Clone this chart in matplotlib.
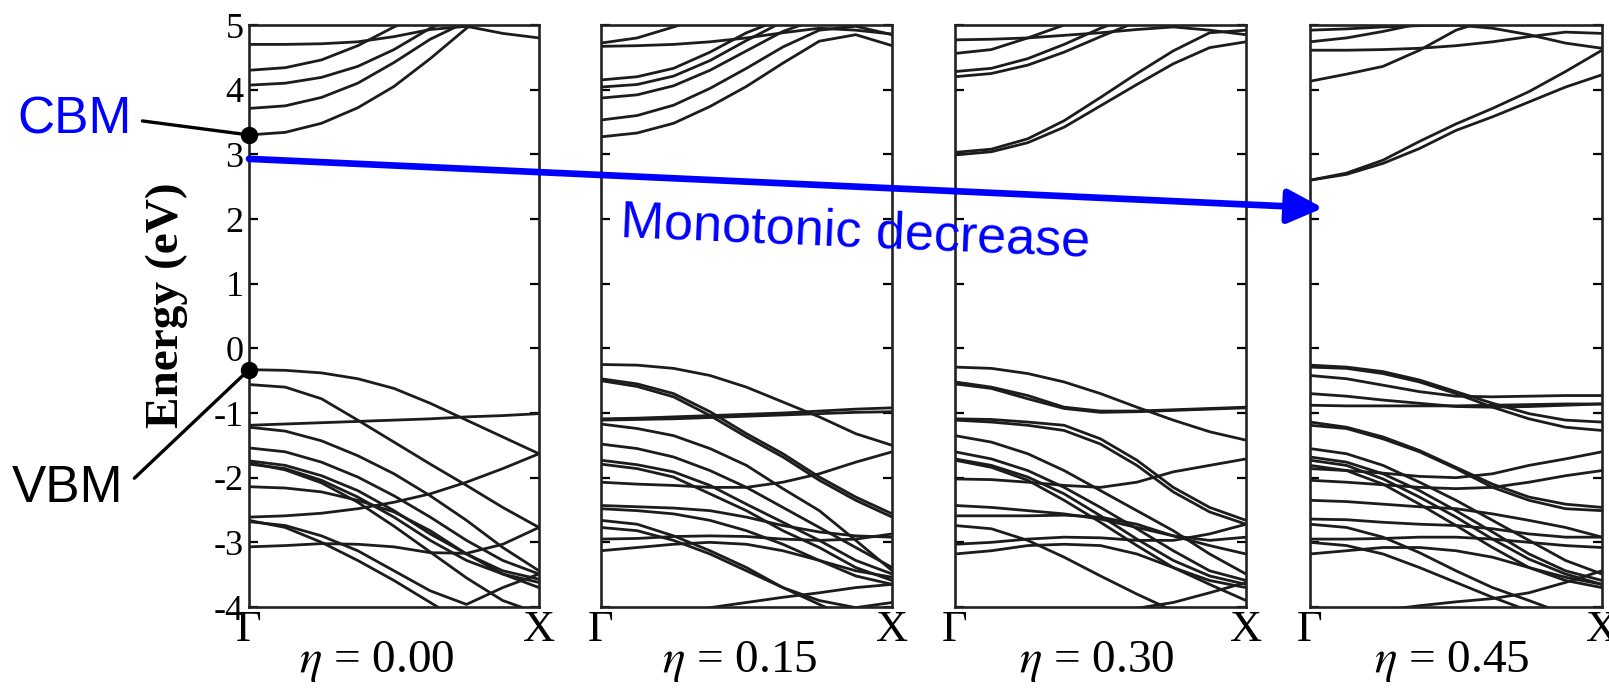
import numpy as np
import matplotlib.pyplot as plt
from matplotlib.patches import ConnectionPatch

plt.rcParams['font.family'] = 'Liberation Serif'
plt.rcParams['mathtext.fontset'] = 'stix'

# k path Gamma -> X, bands read at 9 equally spaced points
k = np.linspace(0, 1, 9)

eta_labels = ['0.00', '0.15', '0.30', '0.45']
yticks = [-4, -3, -2, -1, 0, 1, 2, 3, 4, 5]

# ---------------- eta = 0.00
cond_000 = [
    [3.30, 3.34, 3.48, 3.72, 4.05, 4.48, 4.95, 5.30, 5.60],
    [3.71, 3.75, 3.88, 4.10, 4.42, 4.78, 5.05, 5.30, 5.50],
    [4.07, 4.10, 4.19, 4.36, 4.62, 4.95, 5.20, 5.40, 5.50],
    [4.30, 4.34, 4.46, 4.68, 4.97, 5.20, 5.40, 5.50, 5.50],
    [4.70, 4.70, 4.71, 4.74, 4.82, 4.93, 4.98, 4.87, 4.80],
]
val_000 = [
    [-0.33, -0.34, -0.38, -0.47, -0.62, -0.85, -1.11, -1.37, -1.63],
    [-0.56, -0.60, -0.78, -1.11, -1.45, -1.79, -2.12, -2.46, -2.77],
    [-1.19, -1.17, -1.15, -1.13, -1.11, -1.09, -1.06, -1.04, -1.01],
    [-1.22, -1.28, -1.43, -1.66, -1.94, -2.28, -2.66, -3.08, -3.44],
    [-1.54, -1.60, -1.76, -1.99, -2.28, -2.61, -2.97, -3.28, -3.49],
    [-1.74, -1.81, -1.97, -2.20, -2.51, -2.87, -3.18, -3.44, -3.57],
    [-1.79, -1.86, -2.04, -2.30, -2.61, -2.97, -3.28, -3.49, -3.62],
    [-1.77, -1.88, -2.08, -2.38, -2.75, -3.15, -3.55, -3.90, -4.10],
    [-2.14, -2.16, -2.22, -2.35, -2.53, -2.82, -3.18, -3.49, -3.70],
    [-2.61, -2.59, -2.55, -2.48, -2.38, -2.25, -2.07, -1.86, -1.63],
    [-2.66, -2.77, -3.00, -3.28, -3.59, -3.93, -4.27, -4.58, -4.83],
    [-2.68, -2.74, -2.90, -3.13, -3.44, -3.75, -3.96, -3.70, -3.49],
    [-3.07, -3.05, -3.02, -3.03, -3.07, -3.16, -3.17, -3.03, -2.77],
]

# ---------------- eta = 0.15
cond_015 = [
    [3.27, 3.33, 3.48, 3.74, 4.05, 4.41, 4.75, 4.85, 4.68],
    [3.53, 3.60, 3.76, 4.02, 4.33, 4.66, 4.92, 4.98, 4.85],
    [3.87, 3.92, 4.06, 4.30, 4.60, 4.90, 5.10, 5.20, 5.20],
    [4.04, 4.08, 4.21, 4.45, 4.76, 5.05, 5.20, 5.30, 5.30],
    [4.15, 4.20, 4.33, 4.58, 4.88, 5.10, 5.30, 5.30, 5.30],
    [4.67, 4.68, 4.70, 4.74, 4.80, 4.88, 4.95, 4.92, 4.86],
    [4.72, 4.80, 4.97, 5.15, 5.30, 5.40, 5.40, 5.40, 5.40],
]
val_015 = [
    [-0.25, -0.26, -0.31, -0.42, -0.60, -0.83, -1.06, -1.32, -1.50],
    [-0.47, -0.55, -0.70, -0.98, -1.32, -1.63, -1.99, -2.30, -2.56],
    [-0.50, -0.59, -0.75, -1.04, -1.37, -1.68, -2.04, -2.35, -2.61],
    [-1.09, -1.08, -1.06, -1.04, -1.02, -1.00, -0.97, -0.94, -0.92],
    [-1.11, -1.10, -1.09, -1.07, -1.05, -1.03, -1.01, -0.99, -0.98],
    [-2.07, -2.10, -2.12, -2.15, -2.15, -2.07, -1.94, -1.76, -1.60],
    [-1.17, -1.24, -1.35, -1.55, -1.81, -2.17, -2.51, -2.97, -3.44],
    [-1.48, -1.55, -1.68, -1.89, -2.15, -2.46, -2.77, -3.08, -3.39],
    [-1.73, -1.80, -1.91, -2.12, -2.41, -2.69, -2.97, -3.28, -3.49],
    [-1.79, -1.86, -1.99, -2.25, -2.51, -2.82, -3.08, -3.39, -3.59],
    [-2.43, -2.45, -2.47, -2.51, -2.61, -2.74, -2.84, -2.90, -2.92],
    [-2.48, -2.51, -2.56, -2.66, -2.82, -3.03, -3.28, -3.52, -3.65],
    [-2.66, -2.72, -2.90, -3.13, -3.39, -3.70, -3.96, -4.21, -4.47],
    [-2.77, -2.82, -2.97, -3.18, -3.44, -3.70, -3.90, -4.01, -3.93],
    [-2.95, -2.94, -2.91, -2.90, -2.91, -2.95, -2.97, -2.95, -2.87],
    [-3.13, -3.08, -3.03, -3.00, -3.03, -3.13, -3.28, -3.44, -3.54],
    [-4.47, -4.32, -4.16, -4.01, -3.93, -3.85, -3.78, -3.70, -3.65],
]

# ---------------- eta = 0.30
cond_030 = [
    [2.99, 3.04, 3.18, 3.42, 3.75, 4.08, 4.40, 4.65, 4.74],
    [3.03, 3.08, 3.24, 3.52, 3.88, 4.25, 4.60, 4.88, 4.92],
    [4.20, 4.25, 4.38, 4.58, 4.82, 5.05, 5.20, 5.20, 5.20],
    [4.28, 4.33, 4.48, 4.70, 4.95, 5.15, 5.30, 5.30, 5.30],
    [4.56, 4.62, 4.80, 5.00, 5.20, 5.30, 5.30, 5.30, 5.30],
    [4.77, 4.78, 4.80, 4.84, 4.88, 4.93, 4.97, 4.92, 4.85],
]
val_030 = [
    [-0.29, -0.31, -0.39, -0.52, -0.70, -0.91, -1.11, -1.29, -1.42],
    [-0.52, -0.60, -0.73, -0.91, -0.97, -0.97, -0.95, -0.93, -0.91],
    [-0.55, -0.62, -0.78, -0.93, -0.99, -0.98, -0.96, -0.94, -0.92],
    [-1.09, -1.10, -1.14, -1.19, -1.40, -1.73, -2.15, -2.46, -2.66],
    [-1.11, -1.14, -1.19, -1.27, -1.48, -1.81, -2.22, -2.53, -2.72],
    [-1.35, -1.45, -1.63, -1.89, -2.20, -2.51, -2.82, -3.18, -3.49],
    [-2.02, -2.03, -2.07, -2.12, -2.15, -2.07, -1.91, -1.81, -1.71],
    [-1.60, -1.71, -1.89, -2.15, -2.46, -2.79, -3.13, -3.44, -3.59],
    [-1.71, -1.81, -1.99, -2.25, -2.59, -2.95, -3.28, -3.52, -3.65],
    [-1.73, -1.84, -2.04, -2.35, -2.69, -3.05, -3.39, -3.59, -3.70],
    [-2.43, -2.46, -2.51, -2.56, -2.64, -2.77, -2.90, -2.97, -2.92],
    [-2.59, -2.59, -2.59, -2.58, -2.61, -2.72, -2.90, -3.05, -3.18],
    [-2.74, -2.79, -2.97, -3.23, -3.52, -3.80, -4.06, -4.32, -4.52],
    [-3.03, -3.00, -2.95, -2.92, -2.93, -2.97, -2.97, -2.87, -2.72],
    [-3.18, -3.13, -3.05, -3.03, -3.05, -3.18, -3.39, -3.65, -3.90],
    [-4.80, -4.60, -4.45, -4.30, -4.15, -4.02, -3.93, -3.78, -3.62],
]

# ---------------- eta = 0.45
cond_045 = [
    [2.60, 2.69, 2.86, 3.09, 3.37, 3.58, 3.81, 4.04, 4.23],
    [2.60, 2.71, 2.91, 3.20, 3.47, 3.71, 3.97, 4.28, 4.61],
    [4.13, 4.24, 4.36, 4.61, 4.92, 5.10, 5.20, 5.20, 5.20],
    [4.92, 4.94, 4.97, 4.99, 5.00, 4.95, 4.85, 4.72, 4.64],
    [4.61, 4.61, 4.62, 4.64, 4.68, 4.74, 4.82, 4.89, 4.87],
    [4.74, 4.80, 4.90, 5.02, 5.15, 5.20, 5.20, 5.20, 5.20],
]
val_045 = [
    [-0.26, -0.29, -0.36, -0.49, -0.67, -0.85, -1.01, -1.11, -1.14],
    [-0.29, -0.31, -0.39, -0.52, -0.70, -0.91, -1.09, -1.22, -1.27],
    [-0.42, -0.47, -0.57, -0.67, -0.74, -0.75, -0.74, -0.73, -0.73],
    [-0.70, -0.74, -0.80, -0.85, -0.90, -0.91, -0.90, -0.88, -0.86],
    [-0.88, -0.89, -0.89, -0.89, -0.89, -0.88, -0.87, -0.86, -0.86],
    [-1.14, -1.22, -1.37, -1.58, -1.84, -2.10, -2.30, -2.41, -2.46],
    [-1.19, -1.24, -1.40, -1.60, -1.86, -2.15, -2.35, -2.48, -2.51],
    [-1.55, -1.63, -1.81, -2.07, -2.35, -2.66, -2.97, -3.28, -3.49],
    [-1.68, -1.76, -1.94, -2.20, -2.51, -2.84, -3.18, -3.44, -3.59],
    [-1.73, -1.81, -2.02, -2.30, -2.61, -2.95, -3.26, -3.49, -3.65],
    [-1.81, -1.89, -2.10, -2.41, -2.74, -3.08, -3.39, -3.59, -3.70],
    [-1.86, -1.89, -1.93, -1.98, -2.00, -1.94, -1.81, -1.71, -1.60],
    [-2.04, -2.07, -2.11, -2.15, -2.17, -2.15, -2.07, -1.97, -1.89],
    [-2.35, -2.37, -2.41, -2.45, -2.48, -2.56, -2.66, -2.77, -2.92],
    [-2.64, -2.65, -2.69, -2.72, -2.74, -2.79, -2.87, -2.92, -2.92],
    [-2.72, -2.77, -2.92, -3.16, -3.44, -3.70, -3.90, -4.11, -4.32],
    [-2.95, -2.95, -2.94, -2.92, -2.92, -2.95, -3.00, -3.05, -3.08],
    [-3.00, -3.05, -3.18, -3.39, -3.62, -3.85, -4.06, -4.21, -4.37],
    [-3.18, -3.13, -3.08, -3.08, -3.13, -3.23, -3.39, -3.54, -3.65],
    [-4.40, -4.20, -4.05, -3.98, -3.92, -3.87, -3.78, -3.62, -3.44],
]

panels = [cond_000 + val_000, cond_015 + val_015,
          cond_030 + val_030, cond_045 + val_045]

# CBM trend arrow (start on first panel, tip on last panel)
arrow_start = (0.0, 2.93)
arrow_end = (0.045, 2.17)

# ----------------------------------------------------------------
W, H = 1609, 688
fig = plt.figure(figsize=(W / 100, H / 100), dpi=100)

lefts = [249, 600.7, 955, 1310]
widths = [290, 291.5, 291, 292]
label_x = [377, 740, 1097, 1452]

axes = []
for i, bands in enumerate(panels):
    ax = fig.add_axes([lefts[i] / W, 81 / H, widths[i] / W, 582 / H])
    for b in bands:
        ax.plot(k, b, color='#1c1c1c', lw=2.0, solid_capstyle='round',
                solid_joinstyle='round')
    ax.set_xlim(0, 1)
    ax.set_ylim(-4, 5)
    ax.set_yticks(yticks)
    ax.set_yticklabels([str(v) for v in yticks])
    ax.set_xticks([0, 1])
    ax.set_xticklabels(['Γ', 'X'])
    ax.tick_params(axis='y', direction='in', left=True, right=True,
                   length=6.5, width=1.6, labelsize=26, pad=4,
                   labelleft=(i == 0))
    ax.tick_params(axis='x', length=0, labelsize=32, pad=2)
    for s in ax.spines.values():
        s.set_linewidth(1.9)
        s.set_color('#222222')
    fig.text(label_x[i] / W, 1 - 661 / H, r'$\eta$ = ' + eta_labels[i],
             fontsize=34, ha='center', va='center')
    axes.append(ax)

ax1, ax4 = axes[0], axes[-1]

fig.text(167 / W, 1 - 305 / H, 'Energy (eV)', rotation=90, fontsize=34,
         fontweight='bold', ha='center', va='center')

# CBM / VBM markers on the first panel
cbm = cond_000[0][0]
vbm = val_000[0][0]
ax1.plot(0, cbm, 'o', ms=11.5, color='black', clip_on=False, zorder=6)
ax1.plot(0, vbm, 'o', ms=11.5, color='black', clip_on=False, zorder=6)

ax1.annotate('CBM', xy=(0, cbm), xytext=(17 / W, 1 - 133 / H),
             textcoords='figure fraction', ha='left', va='baseline',
             fontsize=37, color='blue', family='Liberation Sans',
             arrowprops=dict(arrowstyle='-', lw=2.4, color='black',
                             shrinkA=6, shrinkB=0, relpos=(1, 0.5)))
ax1.annotate('VBM', xy=(0, vbm), xytext=(12 / W, 1 - 502 / H),
             textcoords='figure fraction', ha='left', va='baseline',
             fontsize=37, color='black', family='Liberation Sans',
             arrowprops=dict(arrowstyle='-', lw=2.4, color='black',
                             shrinkA=8, shrinkB=0, relpos=(1, 0.5)))

con = ConnectionPatch(xyA=arrow_start, coordsA='data', axesA=ax1,
                      xyB=arrow_end, coordsB='data', axesB=ax4,
                      arrowstyle='-|>,head_length=21.6,head_width=10.4',
                      mutation_scale=1, color='blue', lw=4.8,
                      shrinkA=0, shrinkB=0, zorder=5)
fig.add_artist(con)

fig.text(620 / W, 1 - 237 / H, 'Monotonic decrease', color='blue',
         fontsize=37.5, family='Liberation Sans', rotation=-2.4,
         rotation_mode='anchor', ha='left', va='baseline', zorder=6)

fig.savefig('out.png', dpi=100)
